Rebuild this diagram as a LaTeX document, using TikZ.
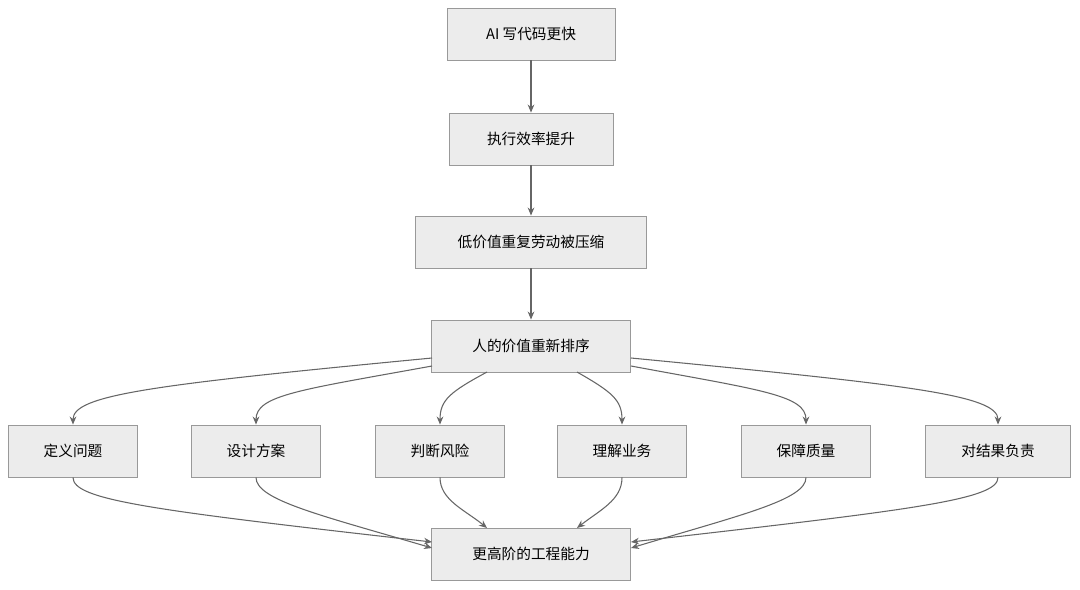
\documentclass[tikz,border=0pt]{standalone}
\usepackage{fontspec}
\setmainfont{Noto Sans CJK SC}
\usetikzlibrary{arrows.meta}
\definecolor{boxfill}{HTML}{ECECEC}
\definecolor{boxline}{HTML}{999999}
\definecolor{arr}{HTML}{666666}
\begin{document}
\begin{tikzpicture}[x=0.75pt,y=-0.75pt,
  box/.style={draw=boxline,fill=boxfill,line width=0.7pt,minimum height=39pt,inner sep=0pt,font=\fontsize{11}{13}\selectfont},
  conn/.style={draw=arr,line width=0.8pt,-{Stealth[length=6pt,width=5pt]}}]
\useasboundingbox (0,0) rectangle (1080,589);
\node[box,minimum width=126pt] (a) at (531,34) {AI 写代码更快};
\node[box,minimum width=123pt] (b) at (531,139) {执行效率提升};
\node[box,minimum width=173pt] (c) at (531,242) {低价值重复劳动被压缩};
\node[box,minimum width=149pt] (d) at (531,346) {人的价值重新排序};
\node[box,minimum width=97pt] (r1) at (73,451) {定义问题};
\node[box,minimum width=97pt] (r2) at (256,451) {设计方案};
\node[box,minimum width=97pt] (r3) at (440,451) {判断风险};
\node[box,minimum width=97pt] (r4) at (622,451) {理解业务};
\node[box,minimum width=97pt] (r5) at (806,451) {保障质量};
\node[box,minimum width=109pt] (r6) at (998,451) {对结果负责};
\node[box,minimum width=149pt] (e) at (531,554) {更高阶的工程能力};
\draw[conn] (a) -- (b);
\draw[conn] (b) -- (c);
\draw[conn] (c) -- (d);
\coordinate (s1) at (432,358); \coordinate (s2) at (432,366);
\coordinate (s3) at (487,372); \coordinate (s4) at (577,372);
\coordinate (s5) at (631,366); \coordinate (s6) at (631,358);
\draw[conn] (s1) .. controls (150,385) and (73,395) .. (r1.north);
\draw[conn] (s2) .. controls (300,390) and (256,395) .. (r2.north);
\draw[conn] (s3) .. controls (450,392) and (440,400) .. (r3.north);
\draw[conn] (s4) .. controls (612,392) and (622,400) .. (r4.north);
\draw[conn] (s5) .. controls (760,390) and (806,395) .. (r5.north);
\draw[conn] (s6) .. controls (910,385) and (998,395) .. (r6.north);
\coordinate (t1) at (432,542); \coordinate (t2) at (432,548);
\coordinate (t3) at (487,528); \coordinate (t4) at (577,528);
\coordinate (t5) at (631,548); \coordinate (t6) at (631,542);
\draw[conn] (r1.south) .. controls (73,500) and (150,510) .. (t1);
\draw[conn] (r2.south) .. controls (256,500) and (320,515) .. (t2);
\draw[conn] (r3.south) .. controls (440,500) and (465,510) .. (t3);
\draw[conn] (r4.south) .. controls (622,500) and (600,510) .. (t4);
\draw[conn] (r5.south) .. controls (806,500) and (740,515) .. (t5);
\draw[conn] (r6.south) .. controls (998,500) and (910,510) .. (t6);
\end{tikzpicture}
\end{document}
